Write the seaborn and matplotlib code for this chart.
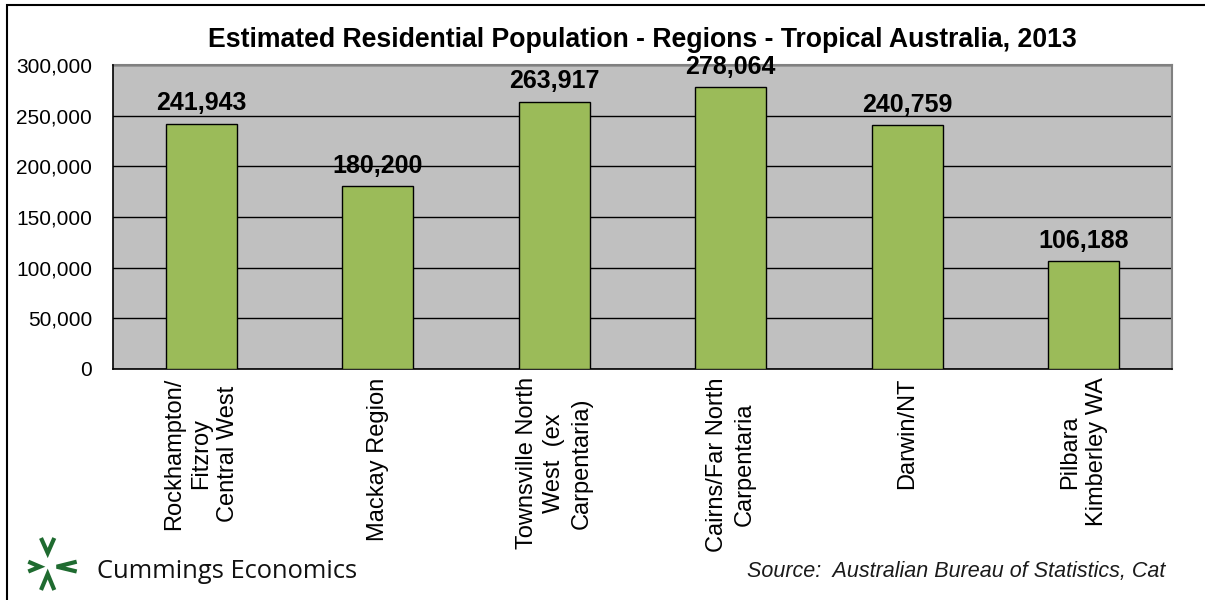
import numpy as np
import pandas as pd
import matplotlib
matplotlib.use("Agg")
import matplotlib.pyplot as plt
from matplotlib.lines import Line2D
from matplotlib.patches import Rectangle
from matplotlib.ticker import FuncFormatter
import seaborn as sns

categories = [
    "Rockhampton/\nFitzroy\nCentral West",
    "Mackay Region",
    "Townsville North\nWest  (ex\nCarpentaria)",
    "Cairns/Far North\nCarpentaria",
    "Darwin/NT",
    "Pilbara\nKimberley WA",
]
population = [241943, 180200, 263917, 278064, 240759, 106188]
y_ticks = [0, 50000, 100000, 150000, 200000, 250000, 300000]

title = "Estimated Residential Population - Regions - Tropical Australia, 2013"
source = "Source:  Australian Bureau of Statistics, Cat"
brand = "Cummings Economics"

sns.set_style("white")
plt.rcParams["font.family"] = ["Liberation Sans", "DejaVu Sans"]
plt.rcParams["text.color"] = "black"
plt.rcParams["xtick.color"] = "black"
plt.rcParams["ytick.color"] = "black"
plt.rcParams["xtick.labelcolor"] = "black"
plt.rcParams["ytick.labelcolor"] = "black"

W, H = 1205, 600
fig = plt.figure(figsize=(W / 100, H / 100), dpi=100)
ax = fig.add_axes([113 / W, 1 - 369 / H, (1172 - 113) / W, (369 - 65) / H])

df = pd.DataFrame({"region": categories, "pop": population})
sns.barplot(data=df, x="region", y="pop", color="#9BBB59", edgecolor="black",
            linewidth=1.0, width=0.4, saturation=1, ax=ax, zorder=3)

ax.set_facecolor("#C0C0C0")
ax.set_ylim(0, 300000)
ax.set_xlim(-0.5, len(categories) - 0.5)
ax.set_yticks(y_ticks)
ax.yaxis.set_major_formatter(FuncFormatter(lambda v, p: f"{int(v):,}"))
ax.grid(axis="y", color="black", linewidth=1.0, zorder=1)
ax.set_axisbelow(True)
ax.set_xlabel("")
ax.set_ylabel("")

# category boundary ticks, labels at centers
ax.set_xticks(np.arange(-0.5, len(categories), 1.0))
ax.set_xticklabels([""] * (len(categories) + 1))
ax.set_xticks(np.arange(len(categories)), minor=True)
ax.set_xticklabels(categories, minor=True, rotation=90, ha="center", va="top",
                   multialignment="center", fontsize=17, linespacing=1.3)
ax.tick_params(axis="x", which="major", length=7, width=1, color="black", direction="out")
ax.tick_params(axis="x", which="minor", length=0, pad=6)
ax.tick_params(axis="y", length=7, width=1, color="black", direction="out", labelsize=15, pad=8)

for s in ["top", "right"]:
    ax.spines[s].set_color("#808080")
    ax.spines[s].set_linewidth(1.5)
for s in ["left", "bottom"]:
    ax.spines[s].set_color("black")
    ax.spines[s].set_linewidth(1.2)
ax.spines["left"].set_zorder(4)

for i, v in enumerate(population):
    ax.annotate(f"{v:,}", (i, v), xytext=(0, 6), textcoords="offset points",
                ha="center", va="bottom", fontsize=18, fontweight="bold", zorder=5,
                color="black", annotation_clip=False)

fig.text(642 / W, 1 - 40 / H, title, ha="center", va="center", fontsize=19.2,
         fontweight="bold", color="black")
fig.text(1165 / W, 1 - 572 / H, source, ha="right", va="center", fontsize=15.5, style="italic",
         color="#1a1a1a")
fig.text(97 / W, 1 - 571 / H, brand, ha="left", va="center", fontsize=18.4,
         family=["Open Sans", "DejaVu Sans"], color="#111111")

# logo chevrons
green = "#1F6B30"
chevrons = [
    [(41, 538), (47.7, 553), (54.3, 538)],
    [(41, 590), (47.7, 574), (54.3, 590)],
    [(28.3, 561.7), (40, 566.7), (28.3, 571.5)],
    [(76.7, 561.7), (56.7, 566.7), (76.7, 571.5)],
]
for pts in chevrons:
    xs = [p[0] / W for p in pts]
    ys = [1 - p[1] / H for p in pts]
    fig.add_artist(Line2D(xs, ys, color=green, linewidth=3.0, transform=fig.transFigure,
                          solid_joinstyle="miter", solid_capstyle="butt"))

# outer frame (top and left visible)
fig.add_artist(Rectangle((7 / W, -0.1), 1.2, 1 - 5 / H + 0.1, transform=fig.transFigure,
                         fill=False, edgecolor="black", linewidth=1.5))

fig.savefig("out.png", dpi=100)
